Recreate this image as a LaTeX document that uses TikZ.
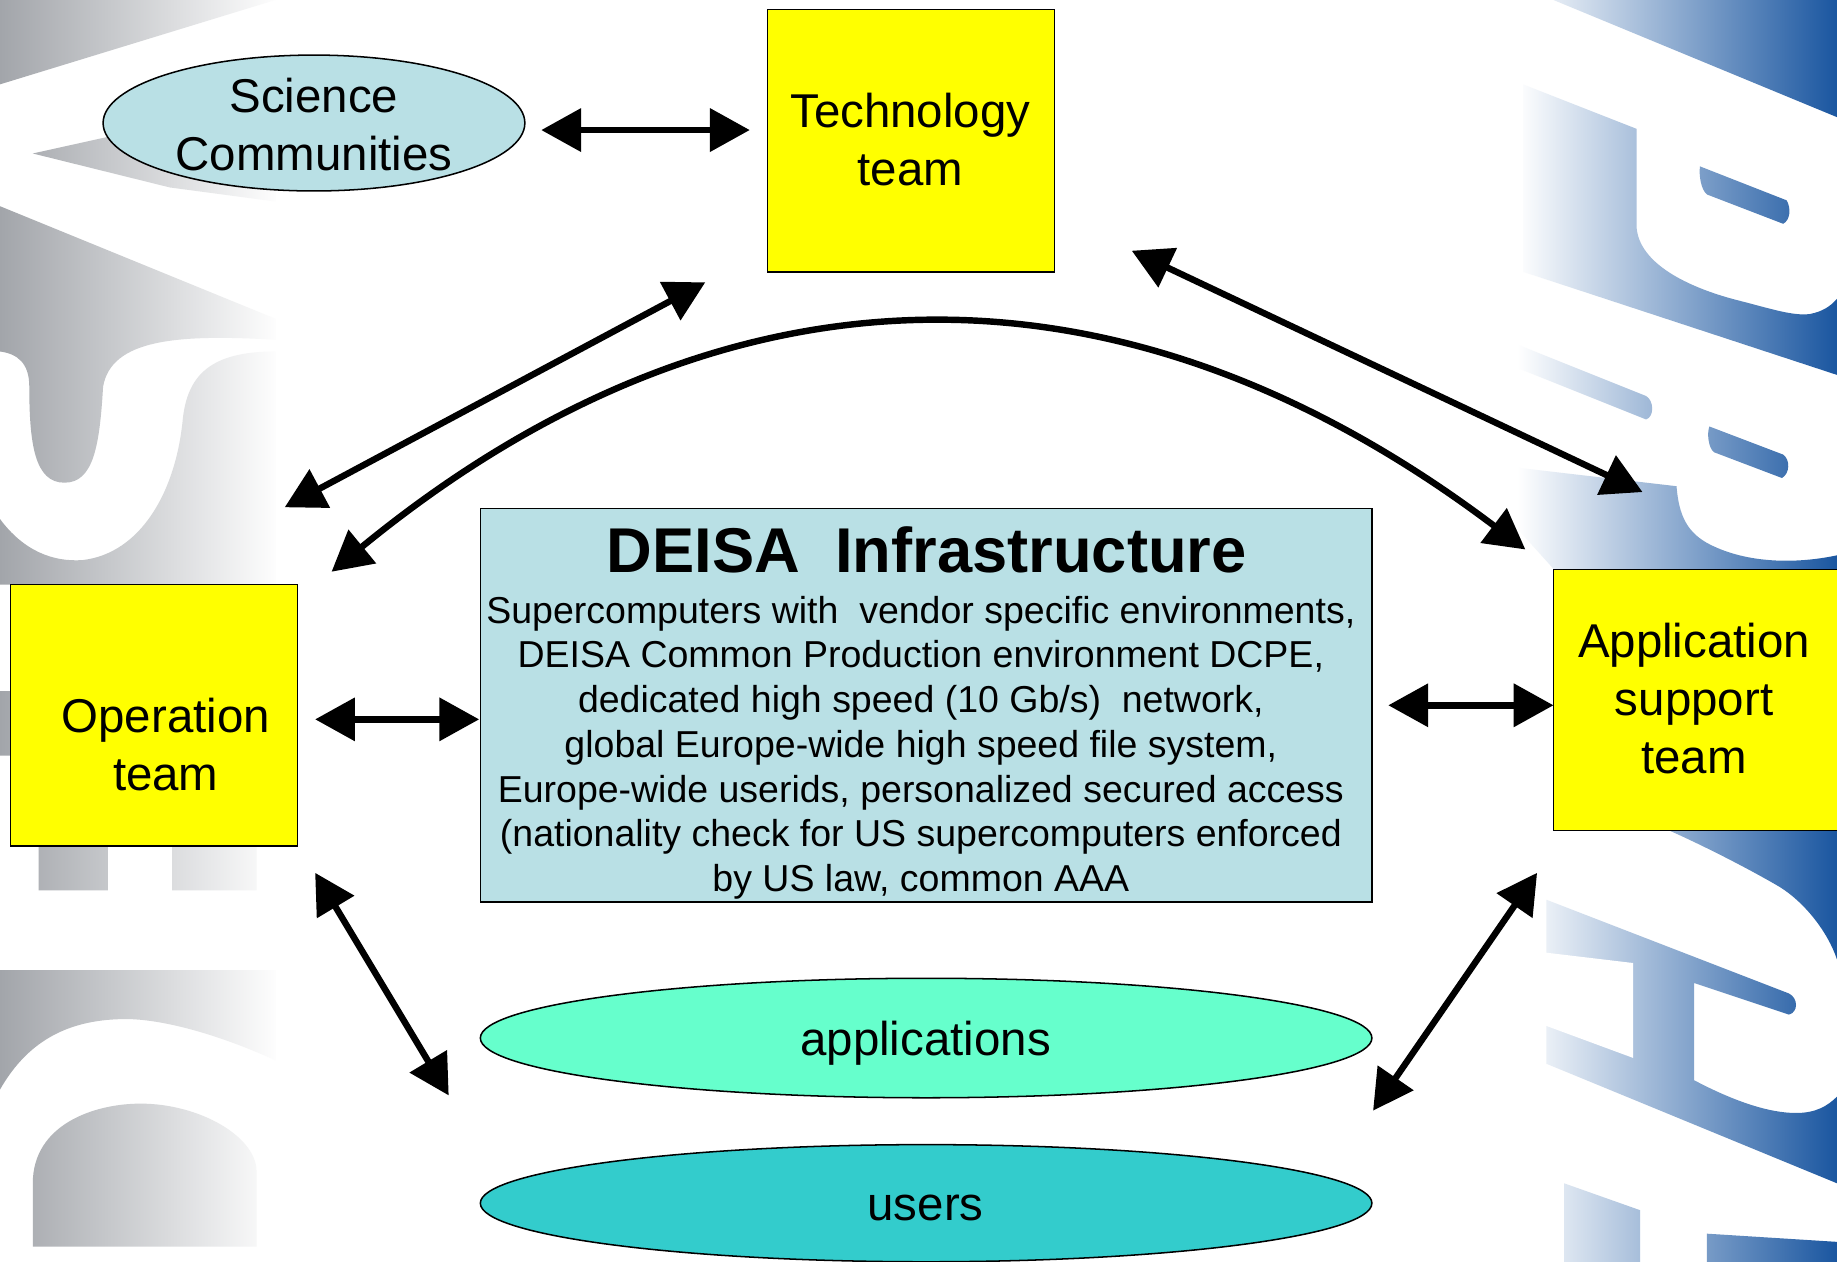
\documentclass[tikz,border=0pt]{standalone}
\usepackage{fontspec}
\setmainfont{Liberation Sans}
\usetikzlibrary{arrows.meta,shapes.geometric}
\definecolor{lblue}{RGB}{185,224,229}
\definecolor{yel}{RGB}{255,255,0}
\definecolor{appc}{RGB}{102,255,204}
\definecolor{usrc}{RGB}{51,204,204}
\definecolor{bgblue}{RGB}{26,86,160}
\definecolor{bggray}{RGB}{162,165,170}
\begin{document}
\begin{tikzpicture}[x=1pt,y=-1pt,
  ybox/.style={draw=black,line width=1.3pt,fill=yel,rectangle,inner sep=0pt},
  ibox/.style={draw=black,line width=1.3pt,fill=lblue,rectangle,inner sep=0pt},
  ell/.style={draw=black,line width=1.3pt,ellipse,inner sep=0pt},
  lbl/.style={font=\fontsize{40.5}{49.5}\selectfont,align=center,inner sep=0pt},
  body/.style={font=\fontsize{32}{38.2}\selectfont,align=center,inner sep=0pt},
  ttl/.style={font=\fontsize{54}{60}\selectfont\bfseries,inner sep=0pt},
  dbl/.style={line width=5.5pt,{Triangle[length=34pt,width=36pt]}-{Triangle[length=34pt,width=36pt]}}
]
\useasboundingbox (0,0) rectangle (1568,1077);
\fill[white] (0,0) rectangle (1568,1077);

% ---- left grey background letters
\begin{scope}
\clip (0,0) -- (235,0) -- (0,72) -- cycle
 (28,131) -- (150,104) -- (235,96) -- (235,172) -- (145,160) -- cycle
 (0,176) -- (235,272) -- (235,290) .. controls (150,285) and (95,290) .. (88,330) .. controls (85,380) and (80,412) .. (55,412) .. controls (30,412) and (25,380) .. (25,330) .. controls (25,310) and (15,302) .. (0,300) -- cycle
 (235,300) -- (235,499) -- (0,499) -- (0,443) .. controls (20,470) and (45,480) .. (71,478) .. controls (120,472) and (150,420) .. (156,358) .. controls (160,320) and (180,300) .. (235,300) -- cycle
 (0,590) rectangle (12,645)
 (33,722) rectangle (92,760)
 (147,722) rectangle (219,760)
 (0,828) -- (235,828) -- (235,905) .. controls (180,880) and (130,868) .. (100,870) .. controls (50,872) and (20,895) .. (0,930) -- cycle
 (28,1064) -- (28,1010) .. controls (28,960) and (80,942) .. (120,942) .. controls (170,942) and (219,970) .. (219,1000) -- (219,1064) -- cycle;
\shade[left color=bggray, right color=white] (0,0) rectangle (240,1077);
\end{scope}

% ---- right blue background letters
\begin{scope}
\clip (1326,0) -- (1568,0) -- (1568,100) -- cycle
 (1300,72) -- (1397,110) -- (1397,195) .. controls (1400,225) and (1440,245) .. (1482,256) .. controls (1510,263) and (1530,270) .. (1545,268) .. controls (1555,266) and (1562,262) .. (1568,255) -- (1568,320) -- (1300,232) -- cycle
 (1451,142) -- (1525,171) .. controls (1529,178) and (1528,188) .. (1522,191) -- (1457,166) .. controls (1452,162) and (1450,150) .. (1451,142) -- cycle
 (1290,292) -- (1405,338) .. controls (1412,342) and (1412,356) .. (1405,358) -- (1290,312) -- cycle
 (1459,364) -- (1522,388) .. controls (1528,392) and (1528,404) .. (1521,408) -- (1463,386) .. controls (1458,382) and (1457,370) .. (1459,364) -- cycle
 (1285,398) -- (1431,415) .. controls (1433,440) and (1440,455) .. (1460,465) .. controls (1490,480) and (1530,482) .. (1568,474) -- (1568,490) -- (1330,490) -- (1285,440) -- cycle
 (1425,709) -- (1568,709) -- (1568,819) .. controls (1560,795) and (1540,770) .. (1519,757) .. controls (1490,740) and (1450,720) .. (1425,709) -- cycle
 (1320,768) -- (1527,848) .. controls (1535,852) and (1535,864) .. (1527,866) -- (1446,839) -- (1446,922) .. controls (1480,940) and (1510,950) .. (1533,950) .. controls (1550,950) and (1560,944) .. (1568,936) -- (1568,1010) -- (1320,908) -- cycle
 (1335,1010) -- (1400,1033) -- (1400,1077) -- (1335,1077) -- cycle
 (1457,1053) -- (1568,1060) -- (1568,1077) -- (1457,1077) -- cycle;
\shade[left color=white, right color=bgblue] (1295,0) rectangle (1568,1077);
\end{scope}
\fill[white] (1310,812) -- (1394,822) -- (1394,903) -- (1310,872) -- cycle;

% ---- nodes
\node[ell,fill=lblue,minimum width=360pt,minimum height=116pt] (sci) at (268,105) {};
\node[lbl,anchor=north] (scit) at (268,66.5) {Science\\Communities};

\node[ybox,minimum width=245pt,minimum height=224pt] (tech) at (777.5,120) {};
\node[lbl,anchor=north] (techt) at (777,79.5) {Technology\\team};

\node[ybox,minimum width=245pt,minimum height=223pt] (oper) at (131.5,610.5) {};
\node[lbl,anchor=north] (opert) at (141.5,595.5) {Operation\\team};

\node[ybox,minimum width=260pt,minimum height=223pt] (appl) at (1456,597.5) {};
\node[lbl,anchor=north] (applt) at (1446,531.5) {Application\\support\\team};

\node[ibox,minimum width=761pt,minimum height=336pt] (deisa) at (790.5,602) {};
\node[ttl,anchor=base] (deisat) at (791,489) {DEISA\ \ Infrastructure};
\node[body,anchor=north] (deisab) at (786,508.5) {Supercomputers with\ \ vendor specific environments,\\
DEISA Common Production environment DCPE,\\
dedicated high speed (10 Gb/s)\ \ network,\\
global Europe-wide high speed file system,\\
Europe-wide userids, personalized secured access\\
(nationality check for US supercomputers enforced\\
by US law, common AAA};

\node[ell,fill=appc,minimum width=761pt,minimum height=102pt] (apps) at (790.5,886) {};
\node[lbl,anchor=base] (appst) at (790,901) {applications};

\node[ell,fill=usrc,minimum width=761pt,minimum height=100pt] (users) at (790.5,1027) {};
\node[lbl,anchor=base] (userst) at (790,1042) {users};

% ---- connector end points
\coordinate (a1s) at (462,111);  \coordinate (a1e) at (640,111);
\coordinate (a2s) at (602,241);  \coordinate (a2e) at (243,433);
\coordinate (a3s) at (283,488);  \coordinate (a3e) at (1302,469);
\coordinate (a4s) at (966,214);  \coordinate (a4e) at (1402,420);
\coordinate (a5s) at (269,614);  \coordinate (a5e) at (409,614);
\coordinate (a6s) at (1185,602); \coordinate (a6e) at (1326,602);
\coordinate (a7s) at (269,745);  \coordinate (a7e) at (383,935);
\coordinate (a8s) at (1312,745); \coordinate (a8e) at (1172,948);

\draw[dbl] (a1s) -- (a1e);
\draw[dbl] (a2s) -- (a2e);
\draw[dbl] (a3s) .. controls (616.7,214.3) and (956.3,208) .. (a3e);
\draw[dbl] (a4s) -- (a4e);
\draw[dbl] (a5s) -- (a5e);
\draw[dbl] (a6s) -- (a6e);
\draw[dbl] (a7s) -- (a7e);
\draw[dbl] (a8s) -- (a8e);
\end{tikzpicture}
\end{document}
